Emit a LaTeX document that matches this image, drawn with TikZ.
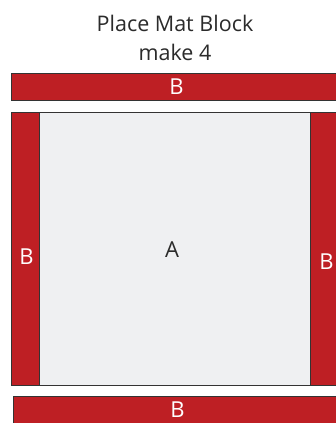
\documentclass[tikz,border=0pt]{standalone}
\usepackage{fontspec}
\setmainfont{Open Sans}
\definecolor{matred}{HTML}{BE1F24}
\definecolor{matgray}{HTML}{EFF0F2}
\definecolor{edge}{HTML}{333333}
\definecolor{txt}{HTML}{2B2B2B}
\begin{document}
\begin{tikzpicture}[x=1pt,y=-1pt,
  redpiece/.style={draw=edge, line width=1pt, fill=matred, inner sep=0pt, outer sep=0pt},
  graypiece/.style={draw=edge, line width=1pt, fill=matgray, inner sep=0pt, outer sep=0pt},
  lbl/.style={inner sep=0pt, font=\fontsize{22}{24}\selectfont},
  title/.style={text=txt, font=\fontsize{21.5}{24}\selectfont, inner sep=0pt, anchor=base}]
\useasboundingbox (0,0) rectangle (336,423);
\clip (0,0) rectangle (336,423);
\fill[white] (0,0) rectangle (336,423);
\node[title] (t1) at (175,31) {Place Mat Block};
\node[title] (t2) at (175,60) {make 4};
\node[redpiece, minimum width=331pt, minimum height=27pt] (top) at (176.5,86.5) {};
\node[lbl, text=white] (toplabel) at (176.5,86.5) {B};
\node[graypiece, minimum width=271pt, minimum height=273pt] (a) at (174.5,248.5) {};
\node[lbl, text=txt] (alabel) at (172,250) {A};
\node[redpiece, minimum width=28pt, minimum height=273pt] (left) at (25,248.5) {};
\node[lbl, text=white] (leftlabel) at (26.5,257) {B};
\node[redpiece, minimum width=31pt, minimum height=273pt] (right) at (325.5,248.5) {};
\node[lbl, text=white] (rightlabel) at (326.5,262) {B};
\node[redpiece, minimum width=328pt, minimum height=28pt] (bottom) at (177,410) {};
\node[lbl, text=white] (bottomlabel) at (177.5,410) {B};
\end{tikzpicture}
\end{document}
